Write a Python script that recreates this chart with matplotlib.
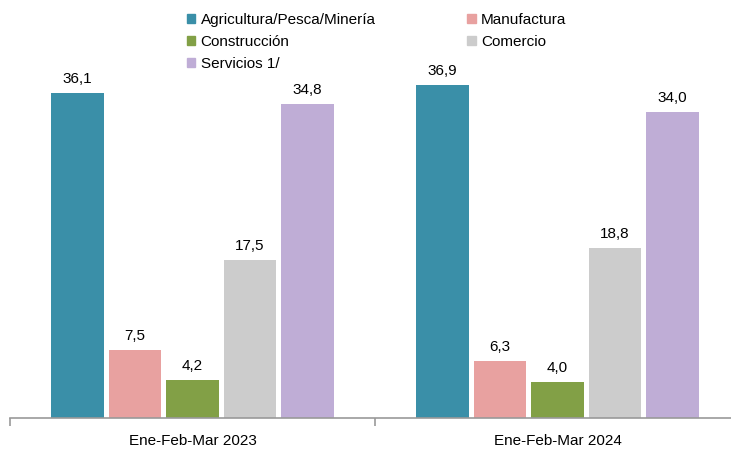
import matplotlib
matplotlib.use("Agg")
import matplotlib.pyplot as plt
from matplotlib.patches import Patch
import numpy as np

periods = ["Ene-Feb-Mar 2023", "Ene-Feb-Mar 2024"]
sectors = ["Agricultura/Pesca/Minería", "Manufactura", "Construcción", "Comercio", "Servicios 1/"]
values = {
    "Agricultura/Pesca/Minería": [36.1, 36.9],
    "Manufactura": [7.5, 6.3],
    "Construcción": [4.2, 4.0],
    "Comercio": [17.5, 18.8],
    "Servicios 1/": [34.8, 34.0],
}
colors = ["#3A8FA8", "#E8A1A0", "#82A046", "#CCCCCC", "#BFADD6"]

plt.rcParams['font.family'] = ['Liberation Sans', 'DejaVu Sans']
fs = 11

W, H = 731, 453
fig = plt.figure(figsize=(W/100, H/100), dpi=100)
left_px, width_px = 10, 730
base_px = 417.5
ax = fig.add_axes([left_px/W, (H-base_px)/H, width_px/W, base_px/H])

x = np.arange(len(periods))
step = 0.1575
bw = 0.145
handles = []
for i, s in enumerate(sectors):
    pos = x + (i - 2) * step
    ax.bar(pos, values[s], width=bw, color=colors[i], edgecolor='none', zorder=2)
    for p, v in zip(pos, values[s]):
        ax.annotate(f"{v:.1f}".replace(".", ","), (p, v), xytext=(0, 5),
                    textcoords="offset points", ha="center", va="bottom", fontsize=fs)
    handles.append(Patch(color=colors[i], label=s))

ax.set_xlim(-0.5, 1.5)
ax.set_ylim(0, base_px / 9.0)
for sp in ["top", "right", "left"]:
    ax.spines[sp].set_visible(False)
ax.spines["bottom"].set_color("#999999")
ax.spines["bottom"].set_linewidth(1.2)
ax.set_yticks([])
ax.set_xticks([-0.5, 0.5, 1.5])
ax.set_xticklabels([])
ax.set_xticks(x, minor=True)
ax.set_xticklabels(periods, minor=True, fontsize=fs)
ax.tick_params(axis="x", which="major", length=6, color="#999999", width=1.2)
ax.tick_params(axis="x", which="minor", length=0, pad=12)

order = [0, 2, 4, 1, 3]
leg = fig.legend([handles[i] for i in order], [sectors[i] for i in order], ncol=2,
                 loc="upper left", bbox_to_anchor=(177/W, 1 - 3/H), frameon=False,
                 fontsize=fs, handlelength=0.55, handleheight=0.55, handletextpad=0.35,
                 columnspacing=6.0, labelspacing=0.52, borderaxespad=0.25)

fig.savefig("out.png", dpi=100)
